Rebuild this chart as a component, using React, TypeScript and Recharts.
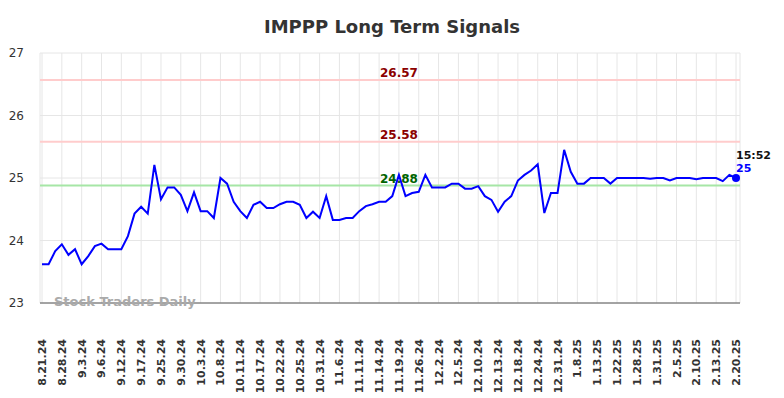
import React from "react";
import { CartesianGrid, Line, LineChart, ReferenceLine, XAxis, YAxis } from "recharts";

const tickLabels = [
  "8.21.24", "8.28.24", "9.3.24", "9.6.24", "9.12.24", "9.17.24", "9.25.24", "9.30.24",
  "10.3.24", "10.8.24", "10.11.24", "10.17.24", "10.22.24", "10.25.24", "10.31.24", "11.6.24",
  "11.11.24", "11.14.24", "11.19.24", "11.26.24", "12.2.24", "12.5.24", "12.10.24", "12.13.24",
  "12.18.24", "12.24.24", "12.31.24", "1.8.25", "1.13.25", "1.22.25", "1.28.25", "1.31.25",
  "2.5.25", "2.10.25", "2.13.25", "2.20.25"
];

// closing prices, three readings per labelled tick
const prices = [
  23.62, 23.62, 23.83, 23.94, 23.77, 23.86, 23.62, 23.75, 23.91, 23.95,
  23.86, 23.86, 23.86, 24.07, 24.43, 24.54, 24.43, 25.21, 24.66, 24.85,
  24.85, 24.73, 24.47, 24.77, 24.47, 24.47, 24.36, 25.0, 24.91, 24.62,
  24.47, 24.36, 24.57, 24.62, 24.52, 24.52, 24.58, 24.62, 24.62, 24.57,
  24.36, 24.46, 24.36, 24.71, 24.33, 24.33, 24.36, 24.36, 24.47, 24.55,
  24.58, 24.62, 24.62, 24.71, 25.05, 24.71, 24.76, 24.78, 25.05, 24.85,
  24.85, 24.85, 24.91, 24.91, 24.83, 24.83, 24.87, 24.71, 24.65, 24.46,
  24.62, 24.71, 24.96, 25.05, 25.12, 25.22, 24.44, 24.76, 24.76, 25.45,
  25.1, 24.91, 24.91, 25.0, 25.0, 25.0, 24.91, 25.0, 25.0, 25.0,
  25.0, 25.0, 24.99, 25.0, 25.0, 24.96, 25.0, 25.0, 25.0, 24.98,
  25.0, 25.0, 25.0, 24.95, 25.05, 25.0
];

const resistanceHigh = 26.57;
const resistanceLow = 25.58;
const support = 24.88;
const lastTime = "15:52";
const lastValue = "25";
const yTicks = [23, 24, 25, 26, 27];

const data = prices.map((price, i) => ({
  date: i % 3 === 0 ? tickLabels[i / 3] : `${tickLabels[Math.floor(i / 3)]}#${i % 3}`,
  price
}));

function DateTick(props: any) {
  const { x, y, payload } = props;
  return (
    <text
      x={x + 4}
      y={y + 28}
      transform={`rotate(-90, ${x + 4}, ${y + 28})`}
      textAnchor="end"
      fontSize={11}
      fontWeight="bold"
      fill="#333"
      fontFamily="DejaVu Sans"
    >
      {payload.value}
    </text>
  );
}

function LastDot(props: any) {
  const { cx, cy, index } = props;
  if (index !== prices.length - 1) return null;
  return (
    <g key="last">
      <circle cx={cx} cy={cy} r={4} fill="#0000ff" />
      <text x={cx} y={cy - 19} fontSize={11} fontWeight="bold" fill="#111" fontFamily="DejaVu Sans">{lastTime}</text>
      <text x={cx} y={cy - 6} fontSize={11} fontWeight="bold" fill="#0000ff" fontFamily="DejaVu Sans">{lastValue}</text>
    </g>
  );
}

const refLabel = (value: number, color: string) => ({
  value: value.toFixed(2),
  position: "insideTop" as const,
  content: (p: any) => (
    <text x={399} y={p.viewBox.y - 3} textAnchor="middle" fontSize={12} fontWeight="bold" fill={color} fontFamily="DejaVu Sans">
      {value.toFixed(2)}
    </text>
  )
});

export default function App() {
  return (
    <div style={{ position: "absolute", left: 0, top: 0, width: 784, height: 398, background: "#fff", fontFamily: "DejaVu Sans" }}>
      <div style={{ position: "absolute", left: 0, top: 16, width: 784, textAlign: "center", fontSize: 18, fontWeight: "bold", color: "#333" }}>
        IMPPP Long Term Signals
      </div>
      <LineChart width={784} height={398} data={data} margin={{ top: 53, right: 44, bottom: 5, left: 0 }}>
        <CartesianGrid stroke="#e6e6e6" />
        <XAxis
          dataKey="date"
          interval={2}
          tick={<DateTick />}
          tickLine={false}
          axisLine={{ stroke: "#555" }}
          height={90}
          padding={{ left: 2, right: 4 }}
        />
        <YAxis
          domain={[23, 27]}
          ticks={yTicks}
          width={40}
          axisLine={false}
          tickLine={false}
          tick={{ fontSize: 12, fill: "#333", fontFamily: "DejaVu Sans" }}
          dx={-8}
        />
        <ReferenceLine y={resistanceHigh} stroke="#ffcccc" strokeWidth={2} label={refLabel(resistanceHigh, "#8b0000")} />
        <ReferenceLine y={resistanceLow} stroke="#ffcccc" strokeWidth={2} label={refLabel(resistanceLow, "#8b0000")} />
        <ReferenceLine y={support} stroke="#a6e6a6" strokeWidth={2} label={refLabel(support, "#006400")} />
        <Line
          type="linear"
          dataKey="price"
          stroke="#0000ff"
          strokeWidth={2}
          dot={<LastDot />}
          activeDot={false}
          isAnimationActive={false}
        />
      </LineChart>
      <div style={{ position: "absolute", left: 54, top: 294, fontSize: 13, fontWeight: "bold", color: "#aaa" }}>
        Stock Traders Daily
      </div>
    </div>
  );
}
